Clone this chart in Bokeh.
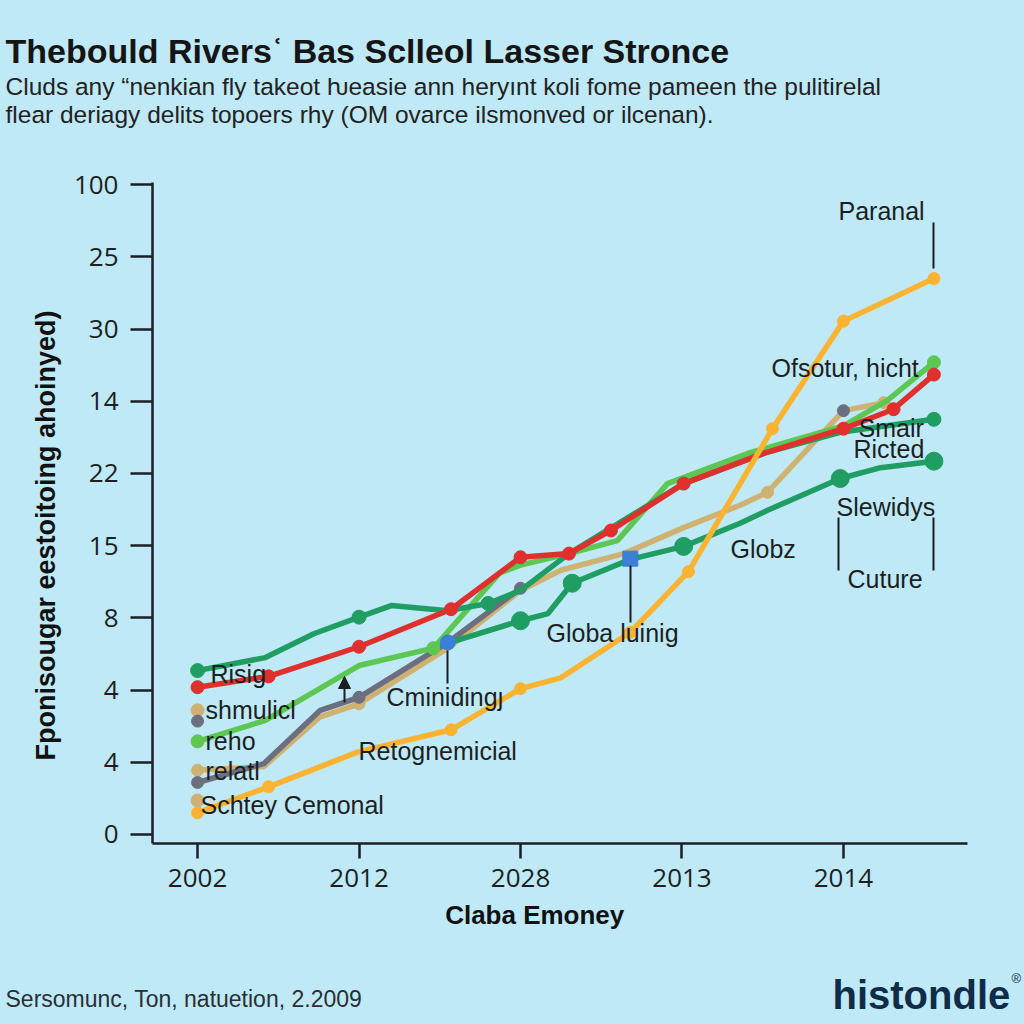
from bokeh.plotting import figure
from bokeh.layouts import column
from bokeh.models import Label, Arrow, NormalHead, Range1d, FixedTicker
from bokeh.embed import file_html
from bokeh.resources import INLINE

BG = "#bfe9f7"

# ---------------- data ----------------
x_tick_labels = ["2002", "2012", "2028", "2013", "2014"]
y_tick_labels = ["0", "4", "4", "8", "15", "22", "14", "30", "25", "100"]

green_upper_x = [0, 0.42, 0.72, 1.0, 1.2, 1.55, 1.8, 2.0, 2.3, 3.01, 3.52, 3.98, 4.56]
green_upper_y = [2.27, 2.45, 2.78, 3.01, 3.17, 3.10, 3.20, 3.38, 3.89, 4.86, 5.29, 5.57, 5.75]

red_x = [0, 0.44, 1.0, 1.57, 2.0, 2.3, 2.56, 3.01, 3.52, 4.0, 4.31, 4.56]
red_y = [2.04, 2.19, 2.60, 3.12, 3.84, 3.89, 4.21, 4.86, 5.29, 5.62, 5.89, 6.37]

lightgreen_x = [0, 0.42, 1.0, 1.46, 1.87, 2.0, 2.3, 2.6, 2.91, 3.41, 4.0, 4.27, 4.56]
lightgreen_y = [1.29, 1.58, 2.34, 2.58, 3.62, 3.73, 3.89, 4.07, 4.86, 5.28, 5.66, 6.01, 6.54]

gray_x = [0, 0.41, 0.76, 1.0, 1.55, 2.0]
gray_y = [0.72, 0.98, 1.72, 1.90, 2.66, 3.41]

tan_x = [0, 0.41, 0.76, 1.0, 1.55, 2.0, 2.25, 2.64, 3.01, 3.36, 3.53, 4.0, 4.25]
tan_y = [0.89, 0.94, 1.63, 1.81, 2.58, 3.38, 3.66, 3.89, 4.25, 4.56, 4.74, 5.87, 5.98]

yellow_x = [0, 0.44, 0.99, 1.57, 2.0, 2.25, 2.68, 3.04, 3.56, 4.0, 4.56]
yellow_y = [0.30, 0.66, 1.14, 1.45, 2.02, 2.17, 2.80, 3.64, 5.62, 7.11, 7.70]

green_lower_x = [1.55, 2.0, 2.17, 2.32, 2.68, 3.01, 3.36, 3.53, 3.98, 4.23, 4.56]
green_lower_y = [2.65, 2.96, 3.06, 3.48, 3.81, 3.99, 4.31, 4.49, 4.93, 5.08, 5.17]

extra_tan_x = [0, 0]
extra_tan_y = [1.72, 0.47]
extra_gray_x = [0, 4.0]
extra_gray_y = [1.57, 5.87]
blue_circle_x = [1.55]
blue_circle_y = [2.66]
blue_square_x = [2.68]
blue_square_y = [3.82]

# ---------------- styles ----------------
C_DGREEN = "#1f9d63"
C_RED = "#e0302e"
C_LGREEN = "#5cc753"
C_GRAY = "#6c6f80"
C_TAN = "#cfb272"
C_YELLOW = "#fbb331"
C_BLUE = "#3b7fd6"
INK = "#1b1f24"

W = 1024
HEAD_H, MAIN_H, FOOT_H = 150, 810, 64
MAIN_TOP = HEAD_H           # page y of main figure top
FL, FT, FR, FB = 152, 182, 967, 843   # frame edges on the page
NB = "\u00a0"


def blank(height):
    f = figure(width=W, height=height, output_backend="svg", toolbar_location=None,
               x_range=Range1d(0, 1), y_range=Range1d(0, 1), x_axis_type=None, y_axis_type=None,
               min_border=0, background_fill_color=BG, border_fill_color=BG, outline_line_color=None)
    f.grid.visible = False
    f.frame_align = False
    return f


head = blank(HEAD_H)
foot = blank(FOOT_H)

p = figure(width=W, height=MAIN_H, output_backend="svg", toolbar_location=None,
           x_range=Range1d(-0.279, 4.768), y_range=Range1d(-0.125, 9.03),
           min_border_left=FL, min_border_right=W - FR, min_border_top=FT - MAIN_TOP,
           min_border_bottom=MAIN_TOP + MAIN_H - FB,
           background_fill_color=BG, border_fill_color=BG, outline_line_color=None)
p.grid.visible = False
p.frame_align = False

# axes
p.xaxis.ticker = FixedTicker(ticks=list(range(len(x_tick_labels))))
p.xaxis.major_label_overrides = {i: t for i, t in enumerate(x_tick_labels)}
p.yaxis.ticker = FixedTicker(ticks=list(range(len(y_tick_labels))))
p.yaxis.major_label_overrides = {i: t for i, t in enumerate(y_tick_labels)}
for ax in (p.xaxis[0], p.yaxis[0]):
    ax.axis_line_width = 2.5
    ax.axis_line_color = INK
    ax.major_tick_line_width = 2.5
    ax.major_tick_line_color = INK
    ax.major_tick_in = 0
    ax.minor_tick_line_color = None
    ax.major_label_text_font = "Open Sans"
    ax.major_label_text_font_size = "26px"
    ax.major_label_text_color = INK
    ax.axis_label_text_font = "Liberation Sans"
    ax.axis_label_text_font_style = "bold"
    ax.axis_label_text_color = "#111111"
p.xaxis.axis_label_text_font_size = "26px"
p.yaxis.axis_label_text_font_size = "27px"
p.xaxis.major_tick_out = 15
p.xaxis.major_label_standoff = 10
p.xaxis.axis_label = "Claba Emoney" + NB * 7
p.xaxis.axis_label_standoff = 10
p.yaxis.major_tick_out = 22
p.yaxis.major_label_standoff = 12
p.yaxis.axis_label = "Fponisougar eestoitoing ahoinyed)" + NB * 6
p.yaxis.axis_label_standoff = 10

LW = 5.5


def series(xs, ys, color, marker_idx, msize):
    p.line(xs, ys, line_color=color, line_width=LW, line_join="round", line_cap="round")
    mx = [xs[i] for i in marker_idx]
    my = [ys[i] for i in marker_idx]
    p.scatter(mx, my, size=msize, fill_color=color, line_color=color)


series(tan_x, tan_y, C_TAN, [0, 3, 10, 12], 12)
series(gray_x, gray_y, C_GRAY, [0, 3, 5], 12)
series(lightgreen_x, lightgreen_y, C_LGREEN, [0, 3, 12], 13)
series(green_lower_x, green_lower_y, C_DGREEN, [1, 3, 5, 8, 10], 18)
series(green_upper_x, green_upper_y, C_DGREEN, [0, 3, 6, 12], 14)
series(red_x, red_y, C_RED, [0, 1, 2, 3, 4, 5, 6, 7, 9, 10, 11], 13)
series(yellow_x, yellow_y, C_YELLOW, [0, 1, 3, 4, 6, 7, 8, 9, 10], 12)

p.scatter(extra_tan_x, extra_tan_y, size=13, fill_color=C_TAN, line_color=C_TAN)
p.scatter(extra_gray_x, extra_gray_y, size=12, fill_color=C_GRAY, line_color=C_GRAY)
p.scatter(blue_circle_x, blue_circle_y, size=15, fill_color=C_BLUE, line_color=C_BLUE)
p.scatter(blue_square_x, blue_square_y, marker="square", size=15, fill_color=C_BLUE, line_color=C_BLUE)


# ---------------- annotations (page pixel positions) ----------------
def ann(fig, text, sx, sy, size, bold=False, align="left", color=INK, font="Liberation Sans"):
    fig.add_layout(Label(x=sx, y=sy, x_units="screen", y_units="screen", text=text,
                         text_font=font, text_font_size=f"{size}px",
                         text_font_style="bold" if bold else "normal",
                         text_color=color, text_align=align, text_baseline="middle"))


def head_text(text, px, py, size, **kw):
    ann(head, text, px, HEAD_H - py, size, **kw)


def foot_text(text, px, py, size, **kw):
    ann(foot, text, px, (MAIN_TOP + MAIN_H + FOOT_H) - py, size, **kw)


def plot_text(text, px, py, size=25, **kw):
    ann(p, text, px - FL, FB - py, size, **kw)


def vline(px, py0, py1, head_arrow=False):
    p.add_layout(Arrow(x_start=px - FL, y_start=FB - py0, x_end=px - FL, y_end=FB - py1,
                       start_units="screen", end_units="screen", line_width=2, line_color=INK,
                       end=NormalHead(size=12, fill_color=INK, line_color=INK) if head_arrow else None))


head_text("Thebould Rivers\u02bf Bas Sclleol Lasser Stronce", 5, 50, 34, bold=True, color="#151515")
head_text("Cluds any \u201cnenkian fly takeot \u0195easie ann heryınt koli fome pameen the pulitirelal", 5, 86, 24.5, color="#222222")
head_text("flear deriagy delits topoers rhy (OM ovarce ilsmonved or ilcenan).", 5, 114, 24.5, color="#222222")
foot_text("Sersomunc, Ton, natuetion, 2.2009", 5, 998, 23, color="#2a2f36")
foot_text("histondle", 832, 994, 40, bold=True, color="#0f2c48")
foot_text("\u00ae", 1011, 978, 13, color="#0f2c48")

plot_text("Risig", 210, 673)
plot_text("shmulicl", 205, 709)
plot_text("reho", 205, 740)
plot_text("relatl", 205, 770)
plot_text("Schtey Cemonal", 200, 804)
plot_text("Retognemicial", 358, 750)
plot_text("Cminidingȷ", 386, 696)
plot_text("Globa luinig", 546, 632)
plot_text("Globz", 730, 548)
plot_text("Paranal", 838, 210)
plot_text("Ofsotur, hicht", 771, 367)
plot_text("Smair", 858, 427)
plot_text("Ricted", 853, 448)
plot_text("Slewidys", 836, 506)
plot_text("Cuture", 847, 578)

vline(933, 222, 268)
vline(630, 565, 622)
vline(447, 650, 683)
vline(838, 517, 570)
vline(933, 517, 570)
vline(344, 702, 676, head_arrow=True)

layout = column(head, p, foot, spacing=0)
html = file_html(layout, INLINE)
html = html.replace("<head>", "<head><style>body{background:%s;}</style>" % BG, 1)
open("out.html", "w").write(html)
